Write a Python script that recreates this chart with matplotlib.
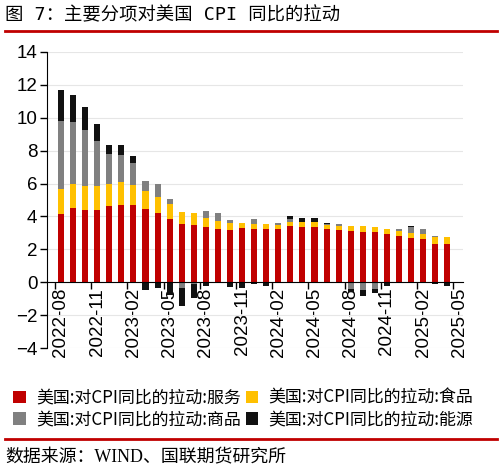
import numpy as np
import matplotlib
matplotlib.use('Agg')
import matplotlib.pyplot as plt
from matplotlib.lines import Line2D
from matplotlib.patches import Patch

plt.rcParams['font.family'] = ['Liberation Sans', 'Noto Sans CJK SC']

# monthly data, 2022-08 .. 2025-04 (axis labels run to 2025-05)
start_year, start_month = 2022, 8
n_months = 33
months = []
for i in range(n_months + 1):
    m = start_month - 1 + i
    months.append(f'{start_year + m // 12}-{m % 12 + 1:02d}')

services = [4.12, 4.52, 4.38, 4.38, 4.63, 4.69, 4.69, 4.44, 4.18, 3.87, 3.52,
            3.51, 3.35, 3.23, 3.16, 3.27, 3.22, 3.21, 3.21, 3.41, 3.37, 3.36,
            3.22, 3.16, 3.10, 3.06, 3.04, 2.92, 2.80, 2.66, 2.60, 2.35, 2.35]
food = [1.54, 1.48, 1.48, 1.46, 1.37, 1.38, 1.21, 1.12, 1.01, 0.90, 0.78,
        0.67, 0.57, 0.48, 0.43, 0.36, 0.35, 0.36, 0.30, 0.26, 0.30, 0.28,
        0.29, 0.27, 0.31, 0.35, 0.29, 0.31, 0.32, 0.36, 0.36, 0.41, 0.41]
goods = [4.12, 3.74, 3.39, 2.72, 1.79, 1.64, 1.36, 0.59, 0.81, 0.32, -0.35,
         -0.10, 0.42, 0.53, 0.18, 0.0, 0.25, 0.0, 0.10, 0.20, 0.0, 0.0,
         0.06, 0.10, -0.40, -0.45, -0.40, 0.0, 0.09, 0.31, 0.25, 0.04, 0.0]
energy = [1.91, 1.62, 1.38, 1.04, 0.53, 0.61, 0.41, -0.45, -0.32, -0.77, -1.11,
          -0.85, -0.23, 0.0, -0.30, -0.35, -0.12, -0.20, -0.06, 0.17, 0.25, 0.27,
          0.06, 0.0, -0.20, -0.38, -0.25, -0.22, 0.0, 0.08, 0.0, -0.12, -0.20]

series = [
    ('美国:对CPI同比的拉动:服务', services, '#C00000'),
    ('美国:对CPI同比的拉动:食品', food, '#FFC000'),
    ('美国:对CPI同比的拉动:商品', goods, '#808080'),
    ('美国:对CPI同比的拉动:能源', energy, '#111111'),
]

fig = plt.figure(figsize=(5.02, 4.71), dpi=100)
ax = fig.add_axes([0.0936, 0.2611, 0.8287, 0.6285])

x = np.arange(n_months)
pos_bottom = np.zeros(n_months)
neg_bottom = np.zeros(n_months)
for name, vals, color in series:
    v = np.array(vals)
    bottom = np.where(v >= 0, pos_bottom, neg_bottom)
    ax.bar(x, v, width=0.5, bottom=bottom, color=color, linewidth=0, zorder=3)
    pos_bottom += np.clip(v, 0, None)
    neg_bottom += np.clip(v, None, 0)

ax.set_ylim(-4, 14)
ax.set_xlim(-1.16, 33.3)
ax.set_yticks(np.arange(-4, 15, 2))
ax.grid(axis='y', color='#E6E6E6', linewidth=0.8, zorder=0)

for s in ['top', 'right']:
    ax.spines[s].set_visible(False)
ax.spines['bottom'].set_position(('data', 0))
ax.spines['bottom'].set_zorder(4)

label_pos = np.arange(0, n_months + 1, 3)
ax.set_xticks(label_pos)
ax.set_xticklabels([months[i] for i in label_pos], rotation=90)
ax.tick_params(axis='x', length=0, pad=4, labelsize=13.5)
ax.set_xticks(np.arange(-0.5, n_months, 3), minor=True)
ax.tick_params(axis='x', which='minor', length=5, direction='out', width=1)
ax.tick_params(axis='y', length=5, direction='out', width=1, labelsize=13.5, pad=2)

handles = [Patch(facecolor=c, edgecolor='none') for _, _, c in series]
names = [n for n, _, _ in series]
order = [0, 2, 1, 3]
fig.legend([handles[i] for i in order], [names[i] for i in order],
           loc='upper left', bbox_to_anchor=(13 / 502, 1 - 389 / 471), ncol=2,
           frameon=False, handlelength=0.75, handleheight=0.75,
           handletextpad=0.6, columnspacing=0.3, labelspacing=0.2,
           borderpad=0, borderaxespad=0,
           prop={'family': ['Noto Sans CJK SC'], 'size': 12.2})

fig.text(0.01, 1 - 6 / 471, '图 7：主要分项对美国 CPI 同比的拉动', ha='left', va='top',
         fontsize=13.2, family=['DejaVu Sans Mono', 'Noto Sans CJK SC'])
fig.add_artist(Line2D([0.01, 0.99], [1 - 31 / 471, 1 - 31 / 471], color='#C00000', linewidth=2))
fig.add_artist(Line2D([0.01, 0.99], [1 - 439 / 471, 1 - 439 / 471], color='#C00000', linewidth=2))
fig.text(0.01, 1 - 458 / 471, '数据来源：WIND、国联期货研究所', ha='left', va='center',
         fontsize=12.9, family=['Liberation Serif', 'Noto Sans CJK SC'])

fig.savefig('out.png', dpi=100)
